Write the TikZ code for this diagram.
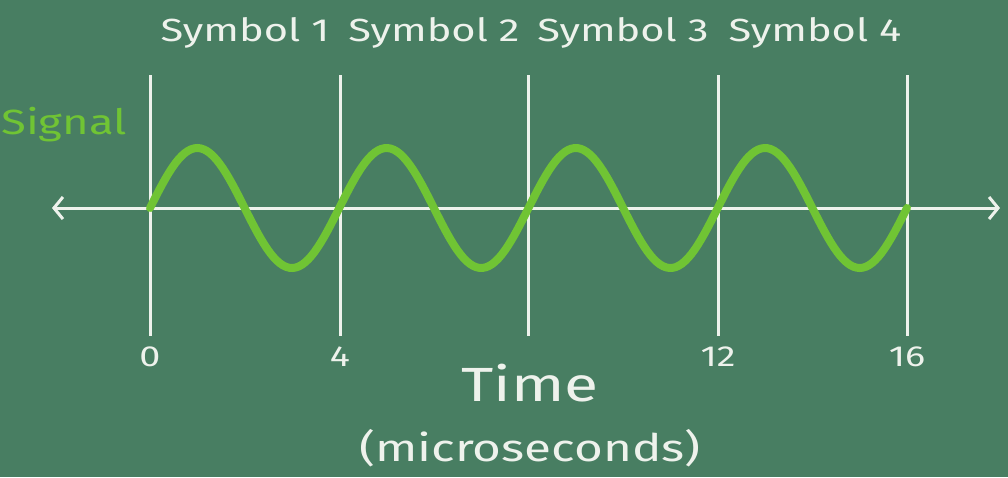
\documentclass[tikz,border=0pt]{standalone}
\usepackage{fontspec}
\setmainfont{Fira Sans}
\newfontfamily\chalkfont[FakeStretch=1.3]{Fira Sans}
\usetikzlibrary{arrows.meta}
\definecolor{board}{RGB}{72,126,98}
\definecolor{chalk}{RGB}{238,242,236}
\definecolor{wavegreen}{RGB}{112,196,52}
\begin{document}
\begin{tikzpicture}[
    x=1pt,y=-1pt,
    chalkline/.style={draw=chalk,line width=3pt},
    axis/.style={chalk,line width=3pt,{Straight Barb[length=9pt,width=22pt,line width=3pt]}-{Straight Barb[length=9pt,width=22pt,line width=3pt]}},
    wave/.style={wavegreen,line width=8pt,line cap=round},
    lbl/.style={text=chalk,inner sep=0pt,font=\chalkfont\fontsize{32}{32}\selectfont},
    tick/.style={text=chalk,inner sep=0pt,font=\chalkfont\fontsize{29}{29}\selectfont}
]
\fill[board] (0,0) rectangle (1008,477);
\useasboundingbox (0,0) rectangle (1008,477);
% symbol boundaries
\foreach \i/\x in {0/150,1/340,2/528,3/718,4/907}{
    \coordinate (top\i) at (\x,75);
    \coordinate (bot\i) at (\x,336);
    \draw[chalkline] (top\i) -- (bot\i);
}
\coordinate (left) at (52,208);
\coordinate (right) at (1000,208);
\draw[axis] (left) -- (right);
% the signal
\draw[wave] plot[domain=150:907,samples=240] (\x,{208-60*sin(1.9023*(\x-150))});
\node[text=wavegreen,inner sep=0pt,font=\chalkfont\fontsize{35}{35}\selectfont,anchor=east] (sig) at (127,125) {Signal};
\node[lbl] (s1) at (245,33) {Symbol 1};
\node[lbl] (s2) at (434,33) {Symbol 2};
\node[lbl] (s3) at (623,33) {Symbol 3};
\node[lbl] (s4) at (815,33) {Symbol 4};
\node[tick] (t0) at (150,357) {0};
\node[tick] (t4) at (340,357) {4};
\node[tick] (t12) at (718,357) {12};
\node[tick] (t16) at (907,357) {16};
\node[text=chalk,inner sep=0pt,font=\chalkfont\fontsize{48}{48}\selectfont] (time) at (530,383) {Time};
\node[text=chalk,inner sep=0pt,font=\chalkfont\fontsize{38}{38}\selectfont] (unit) at (530,448) {(microseconds)};
\end{tikzpicture}
\end{document}
